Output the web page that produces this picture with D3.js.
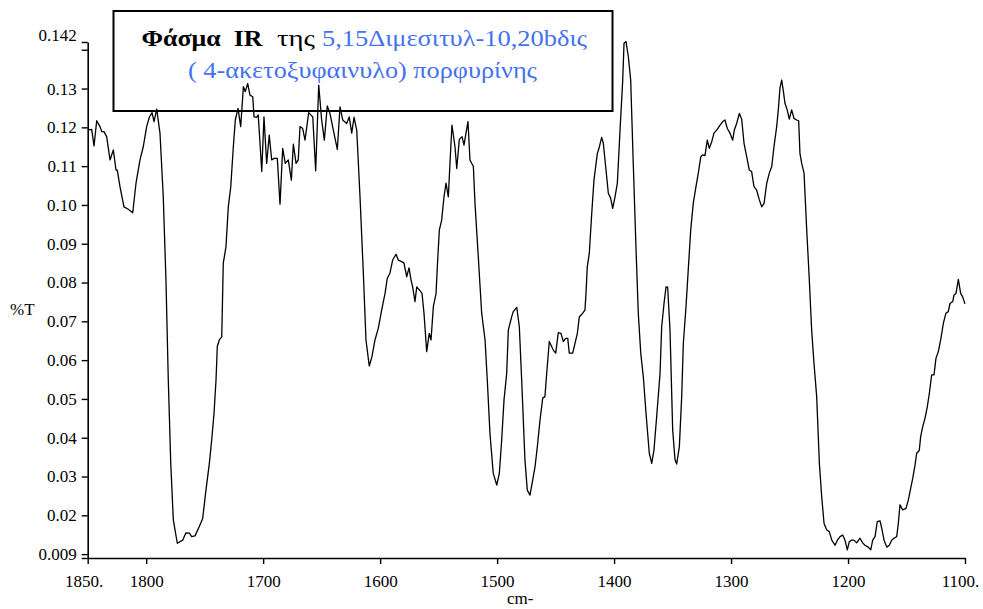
<!DOCTYPE html>
<html>
<head>
<meta charset="utf-8">
<script src="https://cdn.jsdelivr.net/npm/d3@7"></script>
<style>
  body { margin: 0; background: #fff; }
  svg { display: block; }
  svg text { font-family: "Liberation Serif", "Times New Roman", serif; }
</style>
</head>
<body>
<div id="chart"></div>
<script>
// IR spectrum
const wavenumber = [
  1850, 1846.6, 1844.6, 1842.3, 1839.5, 1838.0, 1836.1, 1833.8, 1830.9, 1828.1,
  1825.8, 1824.7, 1822.4, 1819.0, 1815.3, 1811.5, 1808.7, 1805.3, 1802.5, 1799.6,
  1797.3, 1795.0, 1793.3, 1791.0, 1788.2, 1785.4, 1783.1, 1781.1, 1779.0, 1776.8,
  1773.4, 1768.8, 1766.0, 1763.1, 1761.1, 1758.3, 1754.6, 1751.7, 1748.9, 1746.0,
  1744.0, 1742.0, 1740.3, 1739.2, 1737.5, 1735.4, 1734.1, 1731.8, 1729.8, 1727.7,
  1725.5, 1723.8, 1721.5, 1719.2, 1716.9, 1715.3, 1713.2, 1711.3, 1708.9, 1707.8,
  1705.5, 1704.2, 1701.2, 1699.3, 1697.0, 1694.8, 1692.7, 1690.7, 1687.9, 1685.6,
  1683.3, 1681.1, 1678.5, 1675.9, 1674.2, 1671.9, 1670.0, 1668.5, 1666.2, 1664.2,
  1661.1, 1657.6, 1655.1, 1652.5, 1650.0, 1647.7, 1645.2, 1642.9, 1640.0, 1636.6,
  1634.3, 1632.0, 1628.6, 1626.4, 1624.3, 1622.3, 1620.0, 1617.2, 1614.4, 1612.1,
  1609.3, 1607.0, 1604.4, 1601.6, 1598.7, 1595.8, 1593.9, 1591.6, 1589.3, 1586.4,
  1584.5, 1581.6, 1579.6, 1577.3, 1575.3, 1573.6, 1572.2, 1570.2, 1568.7, 1566.5,
  1564.2, 1562.5, 1560.2, 1558.0, 1556.5, 1554.5, 1552.2, 1551.1, 1549.4, 1547.4,
  1545.4, 1543.7, 1541.7, 1540.3, 1538.6, 1536.0, 1534.5, 1532.3, 1530.0, 1528.3,
  1526.6, 1524.9, 1523.2, 1520.3, 1518.9, 1516.1, 1513.2, 1510.3, 1508.4, 1506.1,
  1503.3, 1500.3, 1498.1, 1496.1, 1494.1, 1491.8, 1490.4, 1487.5, 1486.2, 1483.2,
  1481.0, 1479.0, 1476.2, 1474.2, 1471.9, 1469.6, 1467.6, 1465.6, 1463.3, 1461.0,
  1459.1, 1457.6, 1455.4, 1452.0, 1449.9, 1447.7, 1445.4, 1443.4, 1441.4, 1439.6,
  1438.3, 1435.4, 1433.4, 1431.4, 1429.7, 1426.8, 1424.9, 1424.0, 1422.9, 1421.2,
  1419.1, 1417.2, 1414.3, 1412.9, 1410.6, 1409.2, 1406.9, 1404.9, 1402.9, 1401.2,
  1399.2, 1397.2, 1394.9, 1392.6, 1391.5, 1389.8, 1387.8, 1385.8, 1383.6, 1381.3,
  1379.3, 1377.2, 1375.0, 1372.7, 1369.9, 1367.8, 1365.9, 1363.6, 1360.7, 1359.3,
  1357.3, 1355.6, 1354.2, 1352.2, 1349.9, 1347.9, 1346.5, 1344.2, 1342.2, 1340.8,
  1338.5, 1336.6, 1334.5, 1332.3, 1330.0, 1328.0, 1325.9, 1324.2, 1322.3, 1320.3,
  1318.6, 1316.5, 1314.6, 1312.3, 1309.4, 1307.1, 1305.2, 1303.2, 1300.9, 1298.6,
  1297.2, 1295.2, 1292.9, 1290.9, 1288.9, 1286.6, 1284.4, 1282.4, 1280.4, 1278.1,
  1275.8, 1273.8, 1271.8, 1269.5, 1267.3, 1265.2, 1263.3, 1261.0, 1259.6, 1258.2,
  1256.7, 1255.4, 1253.9, 1252.0, 1250.2, 1248.2, 1246.2, 1243.9, 1242.2, 1241.1,
  1239.6, 1237.6, 1235.3, 1233.1, 1231.1, 1229.1, 1226.8, 1224.5, 1222.5, 1220.5,
  1218.2, 1216.0, 1213.9, 1211.1, 1209.1, 1206.8, 1204.5, 1202.6, 1200.6, 1198.9,
  1196.9, 1194.9, 1192.6, 1189.8, 1187.5, 1185.5, 1182.7, 1180.6, 1178.9, 1176.9,
  1175.0, 1172.7, 1171.2, 1169.2, 1166.9, 1164.7, 1162.7, 1160.7, 1158.4, 1157.0,
  1155.6, 1153.3, 1150.4, 1148.5, 1146.4, 1144.7, 1142.7, 1141.3, 1139.1, 1137.9,
  1136.2, 1134.2, 1132.2, 1130.5, 1128.5, 1126.5, 1124.8, 1122.8, 1120.8, 1118.5,
  1116.3, 1114.3, 1112.8, 1110.5, 1109.4, 1107.7, 1105.7, 1103.7, 1102.0, 1100.0
];
const transmittance = [
  0.1193, 0.1195, 0.1152, 0.1217, 0.1202, 0.1189, 0.1189, 0.1176, 0.1116, 0.1142,
  0.1090, 0.1090, 0.1047, 0.0995, 0.0989, 0.0980, 0.1056, 0.1116, 0.1150, 0.1202,
  0.1226, 0.1238, 0.1215, 0.1247, 0.1185, 0.1021, 0.0807, 0.0549, 0.0334, 0.0188,
  0.0128, 0.0136, 0.0155, 0.0154, 0.0145, 0.0147, 0.0171, 0.0192, 0.0265, 0.0334,
  0.0394, 0.0463, 0.0549, 0.0635, 0.0652, 0.0660, 0.0850, 0.0892, 0.0995, 0.1047,
  0.1150, 0.1219, 0.1249, 0.1202, 0.1305, 0.1292, 0.1313, 0.1283, 0.1279, 0.1227,
  0.1226, 0.1232, 0.1086, 0.1227, 0.1107, 0.1180, 0.1116, 0.1120, 0.1120, 0.1002,
  0.1146, 0.1107, 0.1116, 0.1064, 0.1157, 0.1107, 0.1116, 0.1202, 0.1197, 0.1167,
  0.1238, 0.1227, 0.1088, 0.1309, 0.1219, 0.1167, 0.1255, 0.1236, 0.1193, 0.1143,
  0.1253, 0.1219, 0.1210, 0.1227, 0.1185, 0.1226, 0.1193, 0.1021, 0.0827, 0.0652,
  0.0585, 0.0609, 0.0652, 0.0682, 0.0729, 0.0772, 0.0811, 0.0824, 0.0858, 0.0873,
  0.0858, 0.0854, 0.0850, 0.0815, 0.0838, 0.0807, 0.0789, 0.0751, 0.0789, 0.0781,
  0.0772, 0.0721, 0.0622, 0.0669, 0.0652, 0.0738, 0.0772, 0.0841, 0.0935, 0.0961,
  0.1021, 0.1056, 0.1021, 0.1107, 0.1206, 0.1150, 0.1094, 0.1169, 0.1176, 0.1154,
  0.1185, 0.1215, 0.1116, 0.1099, 0.1004, 0.0867, 0.0721, 0.0652, 0.0549, 0.0411,
  0.0308, 0.0278, 0.0308, 0.0394, 0.0497, 0.0566, 0.0678, 0.0712, 0.0725, 0.0736,
  0.0686, 0.0549, 0.0343, 0.0265, 0.0252, 0.0291, 0.0325, 0.0377, 0.0446, 0.0502,
  0.0506, 0.0566, 0.0648, 0.0626, 0.0618, 0.0671, 0.0669, 0.0648, 0.0656, 0.0656,
  0.0618, 0.0618, 0.0643, 0.0669, 0.0712, 0.0721, 0.0729, 0.0772, 0.0841, 0.0875,
  0.0978, 0.1064, 0.1133, 0.1146, 0.1174, 0.1159, 0.1090, 0.1030, 0.1017, 0.0991,
  0.1021, 0.1056, 0.1193, 0.1322, 0.1417, 0.1421, 0.1382, 0.1322, 0.1107, 0.0892,
  0.0721, 0.0618, 0.0557, 0.0463, 0.0360, 0.0334, 0.0368, 0.0454, 0.0566, 0.0686,
  0.0746, 0.0789, 0.0788, 0.0678, 0.0420, 0.0343, 0.0332, 0.0377, 0.0506, 0.0643,
  0.0738, 0.0832, 0.0935, 0.1004, 0.1047, 0.1082, 0.1124, 0.1129, 0.1127, 0.1167,
  0.1146, 0.1163, 0.1185, 0.1193, 0.1206, 0.1215, 0.1219, 0.1197, 0.1185, 0.1167,
  0.1193, 0.1210, 0.1236, 0.1221, 0.1159, 0.1124, 0.1090, 0.1086, 0.1047, 0.1038,
  0.1013, 0.0995, 0.1004, 0.1056, 0.1082, 0.1099, 0.1150, 0.1202, 0.1245, 0.1301,
  0.1322, 0.1296, 0.1262, 0.1245, 0.1221, 0.1245, 0.1223, 0.1219, 0.1217, 0.1133,
  0.1107, 0.1082, 0.0935, 0.0807, 0.0678, 0.0592, 0.0506, 0.0334, 0.0248, 0.0179,
  0.0162, 0.0158, 0.0136, 0.0123, 0.0136, 0.0145, 0.0149, 0.0136, 0.0111, 0.0132,
  0.0136, 0.0136, 0.0129, 0.0141, 0.0129, 0.0123, 0.0118, 0.0111, 0.0136, 0.0145,
  0.0184, 0.0186, 0.0167, 0.0136, 0.0118, 0.0123, 0.0136, 0.0141, 0.0145, 0.0179,
  0.0227, 0.0214, 0.0218, 0.0239, 0.0270, 0.0295, 0.0330, 0.0360, 0.0367, 0.0403,
  0.0428, 0.0450, 0.0480, 0.0514, 0.0562, 0.0562, 0.0605, 0.0622, 0.0652, 0.0695,
  0.0721, 0.0725, 0.0746, 0.0751, 0.0768, 0.0772, 0.0808, 0.0772, 0.0763, 0.0745
];

// Axis ticks
const xTicks = [1850, 1800, 1700, 1600, 1500, 1400, 1300, 1200, 1100];
const xTickLabels = ["1850.", "1800", "1700", "1600", "1500", "1400", "1300", "1200", "1100."];
const yTicks = [0.009, 0.01, 0.02, 0.03, 0.04, 0.05, 0.06, 0.07, 0.08, 0.09, 0.10, 0.11, 0.12, 0.13, 0.14, 0.142];
const yTickLabels = ["0.009", "", "0.02", "0.03", "0.04", "0.05", "0.06", "0.07", "0.08", "0.09", "0.10", "0.11", "0.12", "0.13", "", "0.142"];

const width = 983, height = 609;
const margin = { left: 87.7, right: 18, top: 42, bottom: 51 };
const serif = "Liberation Serif";
const blue = "#4472ee";

const svg = d3.select("#chart").append("svg")
    .attr("width", width)
    .attr("height", height);

const x = d3.scaleLinear().domain([1850, 1100]).range([margin.left, width - margin.right]);
const y = d3.scaleLinear().domain([0.009, 0.142]).range([height - margin.bottom, margin.top]);

// --------------------------------------
// Title box (drawn first, the spectrum runs over it)
// The original text is a bit wider than the font, so textLength stretches it
const box = svg.append("g").attr("font-family", serif).style("font-size", "24px");
box.append("rect")
    .attr("x", 113.5).attr("y", 11)
    .attr("width", 499).attr("height", 100)
    .attr("fill", "white")
    .attr("stroke", "black")
    .attr("stroke-width", 2);
box.append("text")
    .attr("x", 141.5).attr("y", 46)
    .attr("font-weight", "bold")
    .attr("xml:space", "preserve")
    .attr("textLength", 121).attr("lengthAdjust", "spacingAndGlyphs")
    .text("Φάσμα  IR");
box.append("text")
    .attr("x", 277).attr("y", 46)
    .attr("textLength", 38).attr("lengthAdjust", "spacingAndGlyphs")
    .text("της");
box.append("text")
    .attr("x", 322).attr("y", 46)
    .attr("fill", blue)
    .attr("textLength", 265).attr("lengthAdjust", "spacingAndGlyphs")
    .text("5,15Διμεσιτυλ-10,20bδις");
box.append("text")
    .attr("x", 188).attr("y", 77.5)
    .attr("fill", blue)
    .attr("textLength", 349).attr("lengthAdjust", "spacingAndGlyphs")
    .text("( 4-ακετοξυφαινυλο) πορφυρίνης");

// --------------------------------------
// Axes
const xAxis = svg.append("g")
    .attr("transform", `translate(0,${height - margin.bottom})`)
    .call(d3.axisBottom(x).tickValues(xTicks).tickSize(6)
        .tickFormat((d, i) => xTickLabels[i]).tickSizeOuter(0));
const yAxis = svg.append("g")
    .attr("transform", `translate(${margin.left},0)`)
    .call(d3.axisLeft(y).tickValues(yTicks).tickSize(6)
        .tickFormat((d, i) => yTickLabels[i]).tickSizeOuter(0));

[xAxis, yAxis].forEach(g => {
    g.attr("font-family", serif).attr("font-size", 17);
    g.select(".domain").attr("stroke-width", 1.6);
    g.selectAll(".tick line").attr("stroke-width", 1.4);
    g.selectAll("text").attr("fill", "black");
});
xAxis.selectAll(".tick text").attr("y", 17);
xAxis.selectAll(".tick text").filter((d) => d === 1850).attr("dx", -4);
xAxis.selectAll(".tick text").filter((d) => d === 1100).attr("dx", -5);
yAxis.selectAll(".tick text").attr("x", -11);
yAxis.selectAll(".tick text").filter((d) => d === 0.009).attr("dy", "0.1em");
yAxis.selectAll(".tick text").filter((d) => d === 0.142).attr("dy", "-0.1em");

// the decimals of the end labels wrap to a second line that is cut off
const clip = svg.append("clipPath").attr("id", "cut");
clip.append("rect").attr("x", 0).attr("y", 0).attr("width", width).attr("height", 599);
const cutLabels = svg.append("g").attr("clip-path", "url(#cut)")
    .attr("font-family", serif).style("font-size", "17px");
cutLabels.append("text").attr("x", x(1850) - 21).attr("y", 610).text("0");
cutLabels.append("text").attr("x", x(1100) - 14).attr("y", 610).text("0");

// Axis titles
const titles = svg.append("g").attr("font-family", serif).style("font-size", "17px");
titles.append("text")
    .attr("x", 10).attr("y", 315)
    .text("%T");
titles.append("text")
    .attr("x", 507).attr("y", 604)
    .text("cm-");

// --------------------------------------
// Spectrum line
const line = d3.line()
    .x((d, i) => x(wavenumber[i]))
    .y((d) => y(d));
svg.append("path")
    .datum(transmittance)
    .attr("fill", "none")
    .attr("stroke", "black")
    .attr("stroke-width", 1.3)
    .attr("stroke-linejoin", "round")
    .attr("d", line);
</script>
</body>
</html>
